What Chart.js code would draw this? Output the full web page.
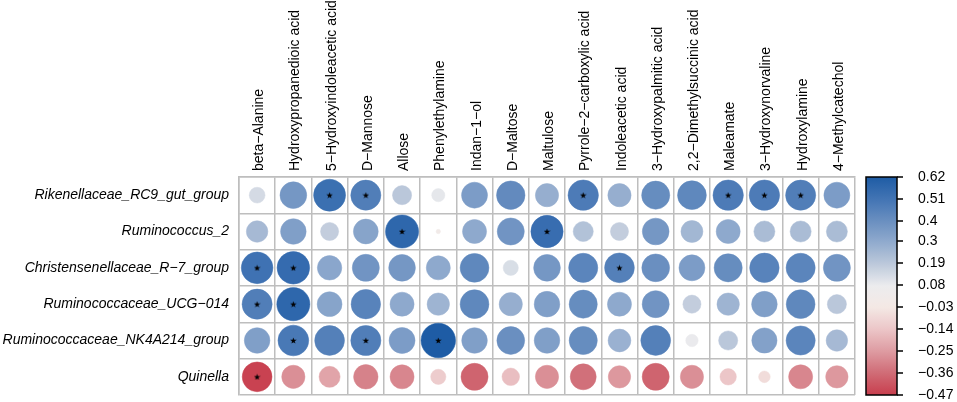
<!DOCTYPE html>
<html>
<head>
<meta charset="utf-8">
<script src="https://cdn.jsdelivr.net/npm/chart.js@4.4.1/dist/chart.umd.min.js"></script>
<style>
html, body { margin: 0; padding: 0; background: #fff; }
</style>
</head>
<body>
<canvas id="myChart" width="957" height="402"></canvas>
<script>
// columns (metabolites) and rows (genera)
var metabolites = ['beta\u2212Alanine', 'Hydroxypropanedioic acid', '5\u2212Hydroxyindoleacetic acid', 'D\u2212Mannose', 'Allose',
  'Phenylethylamine', 'Indan\u22121\u2212ol', 'D\u2212Maltose', 'Maltulose', 'Pyrrole\u22122\u2212carboxylic acid', 'Indoleacetic acid',
  '3\u2212Hydroxypalmitic acid', '2,2\u2212Dimethylsuccinic acid', 'Maleamate', '3\u2212Hydroxynorvaline', 'Hydroxylamine', '4\u2212Methylcatechol'];
var taxa = ['Rikenellaceae_RC9_gut_group', 'Ruminococcus_2', 'Christensenellaceae_R\u22127_group',
  'Ruminococcaceae_UCG\u2212014', 'Ruminococcaceae_NK4A214_group', 'Quinella'];

// correlation per genus, one value per metabolite
var rowRC9      = [0.13, 0.37, 0.53, 0.47, 0.19, 0.09, 0.35, 0.42, 0.28, 0.48, 0.28, 0.41, 0.43, 0.48, 0.48, 0.47, 0.35];
var rowRumino2  = [0.24, 0.34, 0.17, 0.32, 0.57, 0.01, 0.30, 0.38, 0.54, 0.21, 0.17, 0.37, 0.25, 0.30, 0.23, 0.23, 0.23];
var rowR7       = [0.52, 0.55, 0.31, 0.38, 0.37, 0.30, 0.43, 0.12, 0.37, 0.44, 0.46, 0.40, 0.35, 0.41, 0.45, 0.44, 0.38];
var rowUCG014   = [0.47, 0.57, 0.32, 0.45, 0.30, 0.26, 0.43, 0.28, 0.34, 0.41, 0.30, 0.38, 0.17, 0.26, 0.34, 0.43, 0.19];
var rowNK4A214  = [0.34, 0.49, 0.46, 0.47, 0.35, 0.62, 0.34, 0.40, 0.34, 0.41, 0.27, 0.46, 0.08, 0.19, 0.33, 0.44, 0.24];
var rowQuinella = [-0.46, -0.28, -0.23, -0.31, -0.30, -0.12, -0.38, -0.16, -0.28, -0.35, -0.26, -0.38, -0.28, -0.14, -0.07, -0.30, -0.26];
var rows = [rowRC9, rowRumino2, rowR7, rowUCG014, rowNK4A214, rowQuinella];

// [row, column] of cells marked with *
var significant = [[0, 2], [0, 3], [0, 9], [0, 13], [0, 14], [0, 15], [1, 4], [1, 8],
  [2, 0], [2, 1], [2, 10], [3, 0], [3, 1], [4, 1], [4, 3], [4, 5], [5, 0]];

var scaleTicks = [0.62, 0.51, 0.4, 0.3, 0.19, 0.08, -0.03, -0.14, -0.25, -0.36, -0.47];
var lo = -0.47, hi = 0.62;

// colour ramp, red -> near white -> blue
var ramp = [
  [-0.47, [200, 62, 77]], [-0.36, [208, 108, 118]], [-0.25, [222, 156, 162]], [-0.14, [236, 198, 200]],
  [-0.03, [244, 233, 229]], [0.075, [236, 236, 238]], [0.19, [186, 199, 218]], [0.3, [142, 169, 205]],
  [0.4, [106, 143, 192]], [0.51, [66, 116, 180]], [0.62, [30, 92, 165]]
];
function colorFor(v) {
  if (v <= ramp[0][0]) return 'rgb(' + ramp[0][1].join(',') + ')';
  for (var i = 1; i < ramp.length; i++) {
    if (v <= ramp[i][0]) {
      var t = (v - ramp[i - 1][0]) / (ramp[i][0] - ramp[i - 1][0]);
      var a = ramp[i - 1][1], b = ramp[i][1];
      return 'rgb(' + [0, 1, 2].map(function (k) { return Math.round(a[k] + (b[k] - a[k]) * t); }).join(',') + ')';
    }
  }
  return 'rgb(' + ramp[ramp.length - 1][1].join(',') + ')';
}

var cells = [];
rows.forEach(function (r, i) {
  r.forEach(function (v, j) { cells.push({ x: metabolites[j], y: taxa[i], v: v }); });
});
var stars = significant.map(function (p) { return { x: metabolites[p[1]], y: taxa[p[0]] }; });

function circleRadius(ctx) {
  var area = ctx.chart.chartArea;
  var half = area ? (area.right - area.left) / metabolites.length / 2 : 18;
  var maxAbs = Math.max(Math.abs(lo), Math.abs(hi));
  return half * 0.96 * Math.sqrt(Math.abs(ctx.raw.v) / maxAbs);
}

// small filled star used as point style for the significance marks
var starIcon = document.createElement('canvas');
starIcon.width = 7;
starIcon.height = 7;
(function () {
  var s = starIcon.getContext('2d');
  s.beginPath();
  for (var k = 0; k < 10; k++) {
    var ang = -Math.PI / 2 + k * Math.PI / 5;
    var rr = k % 2 ? 1.4 : 3.4;
    s.lineTo(3.5 + rr * Math.cos(ang), 3.8 + rr * Math.sin(ang));
  }
  s.closePath();
  s.fillStyle = '#000';
  s.fill();
})();

var colorBar = {
  id: 'colorBar',
  afterDraw: function (chart) {
    var c = chart.ctx, a = chart.chartArea;
    var x0 = a.right + 11, w = 31, top = a.top, bot = a.bottom;
    var g = c.createLinearGradient(0, bot, 0, top);
    for (var i = 0; i <= 60; i++) g.addColorStop(i / 60, colorFor(lo + (hi - lo) * i / 60));
    c.save();
    c.fillStyle = g;
    c.fillRect(x0, top, w, bot - top);
    c.strokeStyle = '#000';
    c.lineWidth = 1.5;
    c.strokeRect(x0, top, w, bot - top);
    c.font = '14px "Liberation Sans", Arial, sans-serif';
    c.fillStyle = '#000';
    c.textAlign = 'left';
    c.textBaseline = 'middle';
    scaleTicks.forEach(function (t) {
      var y = bot - (t - lo) / (hi - lo) * (bot - top);
      c.beginPath();
      c.moveTo(x0 + w, y);
      c.lineTo(x0 + w + 6, y);
      c.stroke();
      c.fillText(String(t).replace('-', '\u2212'), x0 + w + 21, y);
    });
    c.restore();
  }
};

var gridColor = '#bebebe';
var ctx = document.getElementById('myChart').getContext('2d');
var myChart = new Chart(ctx, {
  type: 'bubble',
  data: {
    datasets: [{
      label: 'correlation',
      data: cells,
      order: 1,
      radius: circleRadius,
      hoverRadius: 0,
      backgroundColor: function (c) { return colorFor(c.raw.v); },
      borderColor: function (c) { return colorFor(c.raw.v); },
      borderWidth: 0.5
    }, {
      label: 'significant',
      data: stars,
      order: 0,
      pointStyle: starIcon,
      radius: 3,
      hoverRadius: 0
    }]
  },
  options: {
    responsive: false,
    animation: false,
    events: [],
    layout: { autoPadding: false, padding: { top: 0, left: 0, right: 102, bottom: 7 } },
    plugins: { legend: { display: false }, tooltip: { enabled: false } },
    scales: {
      x: {
        type: 'category',
        labels: metabolites,
        position: 'top',
        offset: true,
        grid: { offset: true, color: gridColor, lineWidth: 1.5, drawTicks: false },
        border: { color: gridColor, width: 1.5 },
        ticks: {
          autoSkip: false, minRotation: 90, maxRotation: 90, padding: 6, labelOffset: 19, color: '#000',
          font: { family: '"Liberation Sans", Arial, sans-serif', size: 14 }
        },
        afterFit: function (s) { s.height = 177; s.paddingLeft = 0; s.paddingRight = 0; }
      },
      y: {
        type: 'category',
        labels: taxa,
        offset: true,
        grid: { offset: true, color: gridColor, lineWidth: 1.5, drawTicks: false },
        border: { color: gridColor, width: 1.5 },
        ticks: {
          autoSkip: false, padding: 10, color: '#000',
          font: { family: '"Liberation Sans", Arial, sans-serif', size: 14, style: 'italic' }
        },
        afterFit: function (s) { s.width = 239; s.paddingTop = 0; s.paddingBottom = 0; }
      }
    }
  },
  plugins: [colorBar]
});
</script>
</body>
</html>
